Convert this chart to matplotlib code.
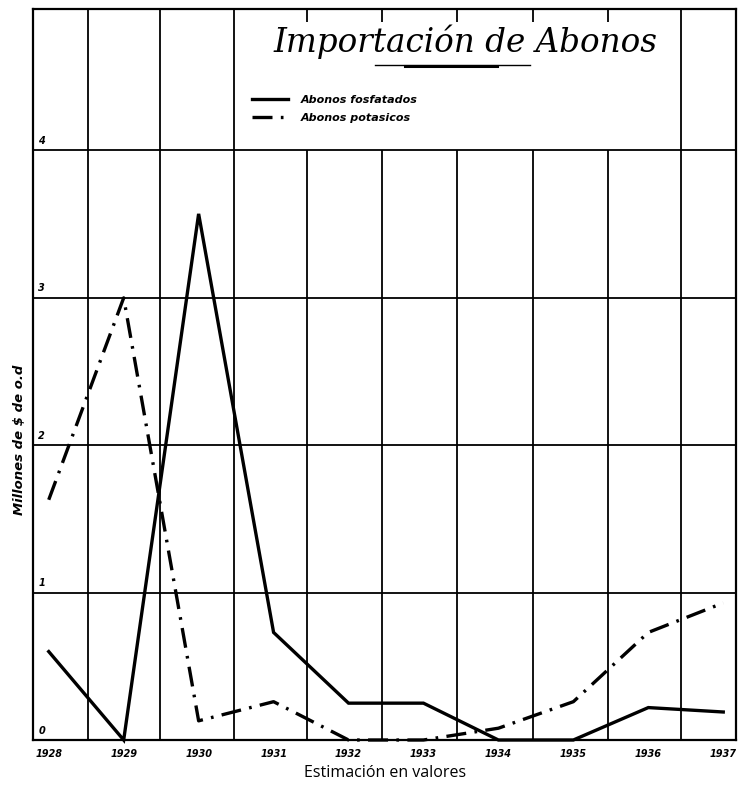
import matplotlib
matplotlib.use("Agg")
import matplotlib.pyplot as plt
from matplotlib.lines import Line2D

# ---- data ----
years = [1928, 1929, 1930, 1931, 1932, 1933, 1934, 1935, 1936, 1937]
year_labels = [str(y) for y in years]
fosfatados = [0.60, 0.00, 3.57, 0.73, 0.25, 0.25, 0.00, 0.00, 0.22, 0.19]
potasicos = [1.63, 3.00, 0.13, 0.26, 0.00, 0.00, 0.08, 0.26, 0.73, 0.93]
y_ticks = [0, 1, 2, 3, 4]
v_full = [1928.52, 1929.48, 1930.47, 1936.44]
v_inner = [1931.45, 1932.45, 1933.45, 1934.46, 1935.46]

title = "Importación de Abonos"
legend_labels = ["Abonos fosfatados", "Abonos potasicos"]
ylabel = "Millones de \\$ de o.d"
xlabel = "Estimación en valores"

W, H = 738, 797
fig = plt.figure(figsize=(W / 100, H / 100), dpi=100)
fig.patch.set_facecolor("white")
ax = fig.add_axes([33 / W, (H - 740) / H, (736 - 33) / W, (740 - 9) / H])
ax.set_xlim(1927.79, 1937.17)
ax.set_ylim(0, 4.96)
ax.set_facecolor("white")

for s in ax.spines.values():
    s.set_linewidth(1.6)
    s.set_color("black")

# grid
for yv in y_ticks[1:]:
    ax.axhline(yv, color="black", lw=1.3, zorder=1)
for xv in v_full:
    ax.axvline(xv, color="black", lw=1.3, zorder=1)
for xv in v_inner:
    ax.vlines(xv, 0, 4, color="black", lw=1.3, zorder=1)
    ax.vlines(xv, 4.87, 4.96, color="black", lw=1.3, zorder=1)

# series
ln1, = ax.plot(years, fosfatados, color="black", lw=2.4, solid_joinstyle="miter",
               zorder=3, clip_on=False)
ln2, = ax.plot(years, potasicos, color="black", lw=2.4,
               linestyle=(0, (6, 2.5, 0.8, 2.5)), zorder=3, clip_on=False)

# y tick labels inside
ax.set_xticks([])
ax.set_yticks([])
for yv in y_ticks:
    ax.text(1927.86, yv + 0.03, str(yv), fontsize=7, fontstyle="italic",
            fontweight="bold", ha="left", va="bottom", zorder=4)

# year labels
for yr, lab in zip(years, year_labels):
    ax.text(yr, -0.06, lab, fontsize=7, fontstyle="italic", fontweight="bold",
            ha="center", va="top", transform=ax.transData, clip_on=False)

# title
fig.text(465 / W, 1 - 42 / H, title, fontsize=23.5, family="DejaVu Serif",
         fontstyle="italic", ha="center", va="center")
# title underline decoration
fig.add_artist(Line2D([375 / W, 530 / W], [1 - 65 / H, 1 - 65 / H], color="black", lw=1.0))
fig.add_artist(Line2D([405 / W, 497 / W], [1 - 66 / H, 1 - 66 / H], color="black", lw=2.2))

# legend
ax.legend([ln1, ln2], legend_labels, loc="upper left",
          bbox_to_anchor=((246 - 33) / (736 - 33), (740 - 89) / (740 - 9)),
          frameon=False, handlelength=3.3, handletextpad=1.1, labelspacing=0.75,
          prop={"size": 8, "style": "italic", "weight": "bold"}, borderpad=0)

# axis labels
fig.text(20 / W, 1 - 440 / H, ylabel, rotation=90, fontsize=9.5, fontstyle="italic",
         fontweight="bold", ha="center", va="center")
fig.text(385 / W, 1 - 773 / H, xlabel, fontsize=11.5, family="Open Sans",
         ha="center", va="center")

fig.savefig("out.png", dpi=100, facecolor="white")
